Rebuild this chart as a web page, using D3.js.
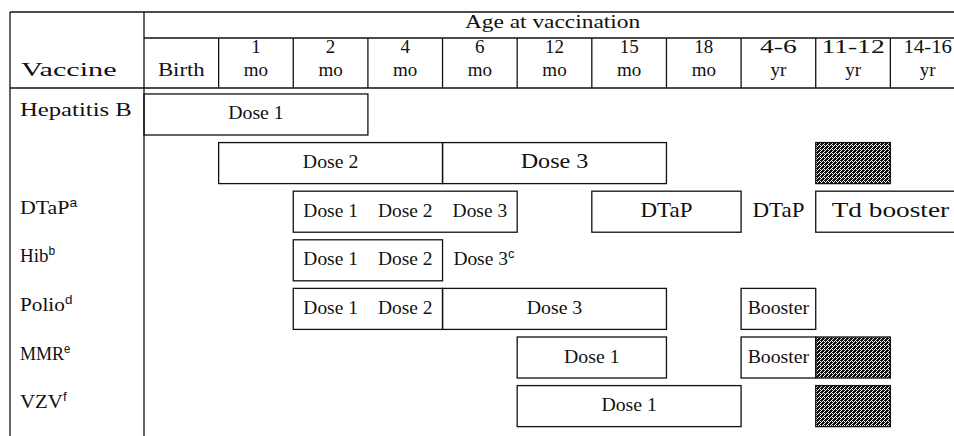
<!DOCTYPE html>
<html><head><meta charset="utf-8">
<script src="https://cdn.jsdelivr.net/npm/d3@7"></script>
<style>
html,body{margin:0;padding:0;background:#fff;}
svg{display:block;}
text{font-family:"Liberation Serif","Times New Roman",serif;fill:#111;}
</style></head><body>
<svg id="chart" width="954" height="436"></svg>
<script>
// ---------- data ----------
const title = "Age at vaccination";
const vaccineHeader = "Vaccine";
const ageTop    = ["", "1", "2", "4", "6", "12", "15", "18", "4-6", "11-12", "14-16"];
const ageBottom = ["Birth", "mo", "mo", "mo", "mo", "mo", "mo", "mo", "yr", "yr", "yr"];
const ages = ageBottom.map((b, i) => (ageTop[i] ? ageTop[i] + " " : "") + b);

const rowKeys  = ["hepb1", "hepb2", "dtap", "hib", "polio", "mmr", "vzv"];
const rowNames = ["Hepatitis B", "", "DTaP", "Hib", "Polio", "MMR", "VZV"];
const rowNotes = ["", "", "a", "b", "d", "e", "f"];

// recommended-age boxes: row, first age column, last age column, label centred in box
const boxes = [
  {row: "hepb1", from: "Birth",    to: "2 mo",     label: "Dose 1"},
  {row: "hepb2", from: "1 mo",     to: "4 mo",     label: "Dose 2"},
  {row: "hepb2", from: "6 mo",     to: "15 mo",    label: "Dose 3"},
  {row: "dtap",  from: "2 mo",     to: "6 mo",     label: ""},
  {row: "dtap",  from: "15 mo",    to: "18 mo",    label: "DTaP"},
  {row: "dtap",  from: "11-12 yr", to: "14-16 yr", label: "Td booster"},
  {row: "hib",   from: "2 mo",     to: "4 mo",     label: ""},
  {row: "polio", from: "2 mo",     to: "4 mo",     label: ""},
  {row: "polio", from: "6 mo",     to: "15 mo",    label: "Dose 3"},
  {row: "polio", from: "4-6 yr",   to: "4-6 yr",   label: "Booster"},
  {row: "mmr",   from: "12 mo",    to: "15 mo",    label: "Dose 1"},
  {row: "mmr",   from: "4-6 yr",   to: "4-6 yr",   label: "Booster"},
  {row: "vzv",   from: "12 mo",    to: "18 mo",    label: "Dose 1"}
];

// texts centred in a single age column
const cellTexts = [
  {row: "dtap",  age: "2 mo",   text: "Dose 1", note: ""},
  {row: "dtap",  age: "4 mo",   text: "Dose 2", note: ""},
  {row: "dtap",  age: "6 mo",   text: "Dose 3", note: ""},
  {row: "dtap",  age: "4-6 yr", text: "DTaP",   note: ""},
  {row: "hib",   age: "2 mo",   text: "Dose 1", note: ""},
  {row: "hib",   age: "4 mo",   text: "Dose 2", note: ""},
  {row: "hib",   age: "6 mo",   text: "Dose 3", note: "c"},
  {row: "polio", age: "2 mo",   text: "Dose 1", note: ""},
  {row: "polio", age: "4 mo",   text: "Dose 2", note: ""}
];

// catch-up (shaded) cells
const shaded = [
  {row: "hepb2", age: "11-12 yr"},
  {row: "mmr",   age: "11-12 yr"},
  {row: "vzv",   age: "11-12 yr"}
];

// ---------- layout ----------
const W = 954, H = 436;
const left = 10, colStart = 144, colEnd = 965;
const topY = 12, titleLineY = 38, headY = 88;

const svg = d3.select("#chart");
const x = d3.scaleBand().domain(ages).range([colStart, colEnd]).padding(0);
const y = d3.scaleBand().domain(rowKeys).range([headY, 432.6]).paddingInner(0.156).paddingOuter(0.123);
const bw = x.bandwidth();
const cy = r => y(r) + y.bandwidth() / 2;

// dither pattern for shaded cells
const defs = svg.append("defs");
const pat = defs.append("pattern").attr("id", "dither").attr("patternUnits", "userSpaceOnUse")
  .attr("width", 4).attr("height", 4);
pat.append("rect").attr("width", 4).attr("height", 4).attr("fill", "#fff");
const blackPix = [[0,0],[2,0],[1,1],[3,1],[0,2],[2,2],[1,3],[3,3],[1,0],[3,2],[2,3]];
pat.selectAll("rect.p").data(blackPix).join("rect").attr("class", "p")
  .attr("x", d => d[0]).attr("y", d => d[1]).attr("width", 1).attr("height", 1).attr("fill", "#111");

const ink = "#111";
const lineG = svg.append("g").attr("stroke", ink).attr("stroke-width", 1.3).attr("fill", "none");

// table frame
lineG.append("line").attr("x1", left).attr("x2", W).attr("y1", topY).attr("y2", topY);
lineG.append("line").attr("x1", colStart).attr("x2", W).attr("y1", titleLineY).attr("y2", titleLineY);
lineG.append("line").attr("x1", left).attr("x2", W).attr("y1", headY).attr("y2", headY);
lineG.append("line").attr("x1", left).attr("x2", left).attr("y1", topY).attr("y2", H);
lineG.append("line").attr("x1", colStart).attr("x2", colStart).attr("y1", topY).attr("y2", H);
lineG.selectAll("line.sep").data(ages.slice(1)).join("line").attr("class", "sep")
  .attr("x1", d => x(d)).attr("x2", d => x(d)).attr("y1", titleLineY).attr("y2", headY);

// helper to draw a text stretched horizontally
function stext(g, str, px, py, size, sx, anchor, note) {
  const t = g.append("text")
    .attr("transform", `translate(${px},${py}) scale(${sx},1)`)
    .attr("text-anchor", anchor || "middle")
    .attr("font-size", size)
    .text(str);
  if (note) {
    t.append("tspan").attr("dy", -7).attr("font-size", 12)
      .style("font-family", "'Liberation Sans', Arial, sans-serif").text(note);
  }
  return t;
}

const txt = svg.append("g");
// header
stext(txt, title, (colStart + colEnd) / 2 - 2, 28, 19.5, 1.2, "middle");
stext(txt, vaccineHeader, left + 11, 76, 19.5, 1.55, "start");
ages.forEach((a, i) => {
  const cx = x(a) + bw / 2;
  if (ageTop[i]) {
    let sx = ageTop[i].includes("-") ? 1.45 : 1.0;
    const t = stext(txt, ageTop[i], cx, 53, 19, sx, "middle");
    // keep the label inside the visible page
    const w = t.node().getComputedTextLength();
    const room = 2 * Math.min(cx - x(a), W - 2 - cx);
    if (w * sx > room) t.attr("transform", `translate(${cx},53) scale(${room / w},1)`);
  }
  stext(txt, ageBottom[i], cx, 76, 19, ageBottom[i] === "Birth" ? 1.2 : 1.0, "middle");
});

// row labels
const labelStretch = {"Hepatitis B": 1.3, "DTaP": 1.15, "Hib": 1.0, "Polio": 1.12, "MMR": 0.95, "VZV": 1.1};
rowKeys.forEach((r, i) => {
  if (!rowNames[i]) return;
  stext(txt, rowNames[i], left + 10, cy(r) + 2, 19, labelStretch[rowNames[i]] || 1, "start", rowNotes[i]);
});

// shaded cells
svg.append("g").selectAll("rect").data(shaded).join("rect")
  .attr("x", d => x(d.age)).attr("y", d => y(d.row))
  .attr("width", bw).attr("height", y.bandwidth())
  .attr("fill", "url(#dither)").attr("stroke", ink).attr("stroke-width", 1.3);

// boxes
svg.append("g").selectAll("rect").data(boxes).join("rect")
  .attr("x", d => x(d.from)).attr("y", d => y(d.row))
  .attr("width", d => x(d.to) + bw - x(d.from)).attr("height", y.bandwidth())
  .attr("fill", "none").attr("stroke", ink).attr("stroke-width", 1.3);

function boxStyle(d) {
  if (d.row === "hepb2" && d.label === "Dose 3") return [21, 1.15];
  if (d.label === "DTaP") return [20, 1.15];
  if (d.label === "Td booster") return [21, 1.3];
  return [18, 1.1];
}
boxes.filter(d => d.label).forEach(d => {
  const [fs, sx] = boxStyle(d);
  const cx = (x(d.from) + x(d.to) + bw) / 2;
  stext(txt, d.label, cx, cy(d.row) + 5, fs, sx, "middle");
});
cellTexts.forEach(d => {
  const isDtap = d.text === "DTaP";
  stext(txt, d.text, x(d.age) + bw / 2 + (d.note ? 4 : 0), cy(d.row) + 5, isDtap ? 20 : 18, isDtap ? 1.15 : 1.08, "middle", d.note);
});
</script>
</body></html>
